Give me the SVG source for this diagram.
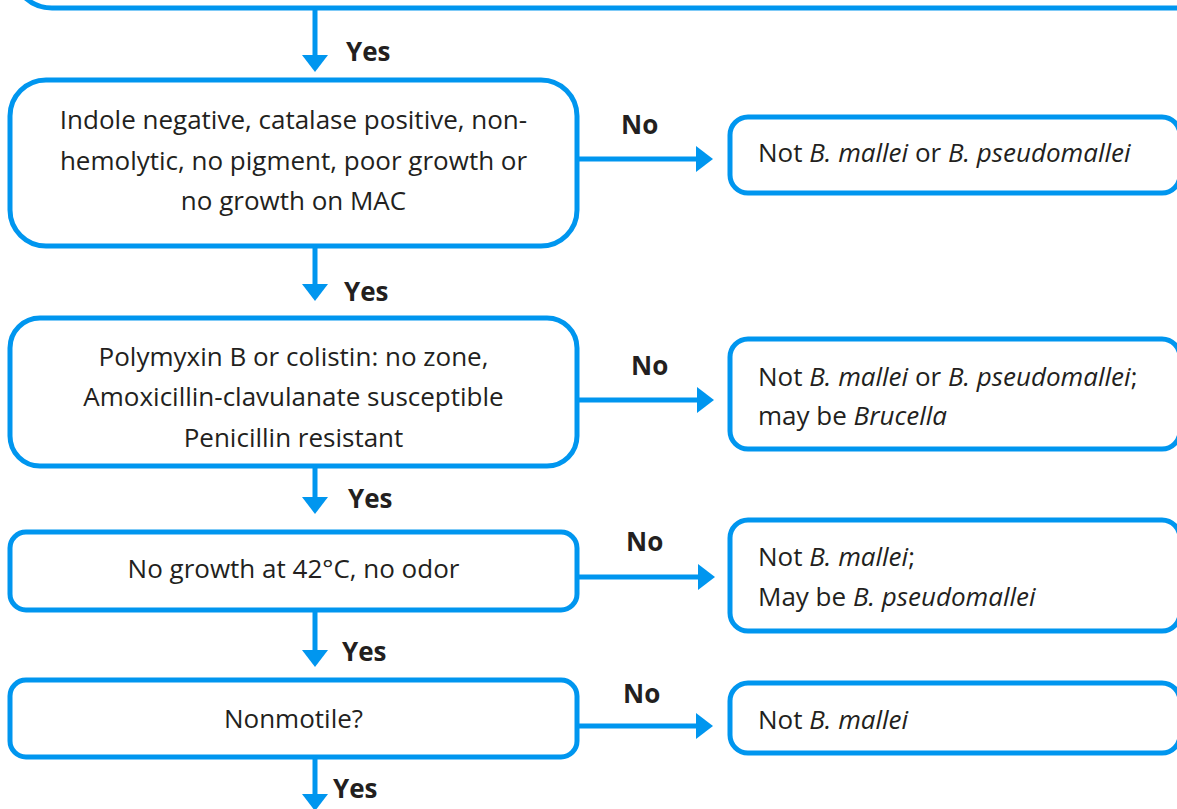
<svg xmlns="http://www.w3.org/2000/svg" width="1177" height="809" viewBox="0 0 1177 809">
<defs>
<style>
.box{fill:#fff;stroke:#0096ef;stroke-width:5}
.con{stroke:#0096ef;stroke-width:5;fill:none}
.t{font-family:"Open Sans","Liberation Sans",sans-serif;font-size:26px;fill:#231f20}
.c{text-anchor:middle}
.lbl{font-family:"Open Sans","Liberation Sans",sans-serif;font-size:26px;font-weight:bold;fill:#231f20}
.i{font-style:italic}
</style>
<marker id="ah" markerUnits="userSpaceOnUse" markerWidth="17" markerHeight="27" refX="0" refY="13" orient="auto" viewBox="0 0 17 26">
<path d="M0,0 L17,13 L0,26 z" fill="#0096ef"/>
</marker>
</defs>
<rect width="1177" height="809" fill="#fff"/>
<g id="n0"><rect class="box" x="12" y="-200" width="1300" height="208" rx="40"/></g>
<g id="n1"><rect class="box" x="10" y="80" width="567" height="166" rx="36"/>
<text class="t c" x="293.5" y="129">Indole negative, catalase positive, non-</text>
<text class="t c" x="293.5" y="170">hemolytic, no pigment, poor growth or</text>
<text class="t c" x="293.5" y="210">no growth on MAC</text></g>
<g id="n2"><rect class="box" x="730" y="117" width="450" height="76" rx="18"/>
<text class="t" x="758" y="162">Not <tspan class="i">B. mallei</tspan> or <tspan class="i">B. pseudomallei</tspan></text></g>
<g id="n3"><rect class="box" x="10" y="318" width="567" height="148" rx="30"/>
<text class="t c" x="293.5" y="366">Polymyxin B or colistin: no zone,</text>
<text class="t c" x="293.5" y="406">Amoxicillin-clavulanate susceptible</text>
<text class="t c" x="293.5" y="447">Penicillin resistant</text></g>
<g id="n4"><rect class="box" x="730" y="339" width="450" height="110" rx="18"/>
<text class="t" x="758" y="386">Not <tspan class="i">B. mallei</tspan> or <tspan class="i">B. pseudomallei</tspan>;</text>
<text class="t" x="758" y="425">may be <tspan class="i">Brucella</tspan></text></g>
<g id="n5"><rect class="box" x="10" y="532" width="567" height="78" rx="16"/>
<text class="t c" x="293.5" y="578">No growth at 42°C, no odor</text></g>
<g id="n6"><rect class="box" x="730" y="520" width="450" height="111" rx="18"/>
<text class="t" x="758" y="566">Not <tspan class="i">B. mallei</tspan>;</text>
<text class="t" x="758" y="606">May be <tspan class="i">B. pseudomallei</tspan></text></g>
<g id="n7"><rect class="box" x="10" y="680" width="567" height="77" rx="16"/>
<text class="t c" x="293.5" y="728">Nonmotile?</text></g>
<g id="n8"><rect class="box" x="730" y="683" width="450" height="70" rx="18"/>
<text class="t" x="758" y="729">Not <tspan class="i">B. mallei</tspan></text></g>
<g id="connectors">
<line class="con" x1="315" y1="10" x2="315" y2="55" marker-end="url(#ah)"/>
<line class="con" x1="315" y1="248" x2="315" y2="284" marker-end="url(#ah)"/>
<line class="con" x1="315" y1="468" x2="315" y2="497" marker-end="url(#ah)"/>
<line class="con" x1="315" y1="612" x2="315" y2="650" marker-end="url(#ah)"/>
<line class="con" x1="315" y1="759" x2="315" y2="794" marker-end="url(#ah)"/>
<line class="con" x1="579" y1="159" x2="696" y2="159" marker-end="url(#ah)"/>
<line class="con" x1="579" y1="400" x2="697" y2="400" marker-end="url(#ah)"/>
<line class="con" x1="579" y1="577" x2="698" y2="577" marker-end="url(#ah)"/>
<line class="con" x1="579" y1="726" x2="696" y2="726" marker-end="url(#ah)"/>
<text class="lbl" x="346" y="61">Yes</text>
<text class="lbl" x="344" y="301">Yes</text>
<text class="lbl" x="348" y="508">Yes</text>
<text class="lbl" x="342" y="661">Yes</text>
<text class="lbl" x="333" y="798">Yes</text>
<text class="lbl" x="621" y="134">No</text>
<text class="lbl" x="631" y="375">No</text>
<text class="lbl" x="626" y="551">No</text>
<text class="lbl" x="623" y="703">No</text>
</g>
</svg>
